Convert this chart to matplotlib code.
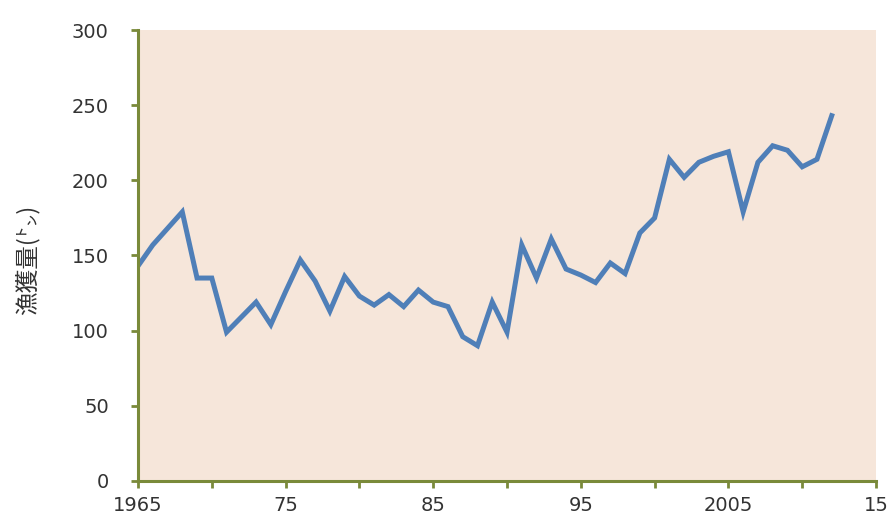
import numpy as np
import matplotlib.pyplot as plt

plt.rcParams['font.family'] = ['Noto Sans CJK JP', 'DejaVu Sans']

years = list(range(1965, 2013))
catch = [143, 157, 168, 179, 135, 135, 99, 109, 119, 104,
         126, 147, 133, 113, 136, 123, 117, 124, 116, 127,
         119, 116, 96, 90, 119, 99, 157, 135, 161, 141,
         137, 132, 145, 138, 165, 175, 214, 202, 212, 216,
         219, 179, 212, 223, 220, 209, 214, 243]

xticks = list(range(1965, 2016, 5))
xlabels = ['1965', '', '75', '', '85', '', '95', '', '2005', '', '15']
yticks = [0, 50, 100, 150, 200, 250, 300]

olive = '#7a8a3a'

fig = plt.figure(figsize=(8.88, 5.21), dpi=100)
ax = fig.add_axes([0.1554, 0.0768, 0.8311, 0.8656])
ax.set_facecolor('#f6e6da')

ax.plot(years, catch, color='#4f7fb8', linewidth=3.6, solid_joinstyle='miter')

ax.set_xlim(1965, 2015)
ax.set_ylim(0, 300)
ax.set_xticks(xticks)
ax.set_xticklabels(xlabels)
ax.set_yticks(yticks)

for s in ['top', 'right']:
    ax.spines[s].set_visible(False)
for s in ['left', 'bottom']:
    ax.spines[s].set_color(olive)
    ax.spines[s].set_linewidth(2.2)

ax.tick_params(axis='both', direction='out', length=5, width=2, color=olive,
               labelsize=14, labelcolor='#333333')
ax.tick_params(axis='x', pad=6)
ax.tick_params(axis='y', pad=16)
for lab in ax.get_xticklabels() + ax.get_yticklabels():
    lab.set_fontfamily('DejaVu Sans')

ax.set_ylabel('漁獲量(㌧)', fontsize=17, color='#333333')
ax.yaxis.set_label_coords(-0.133, 0.49)

fig.savefig('out.png', dpi=100)
